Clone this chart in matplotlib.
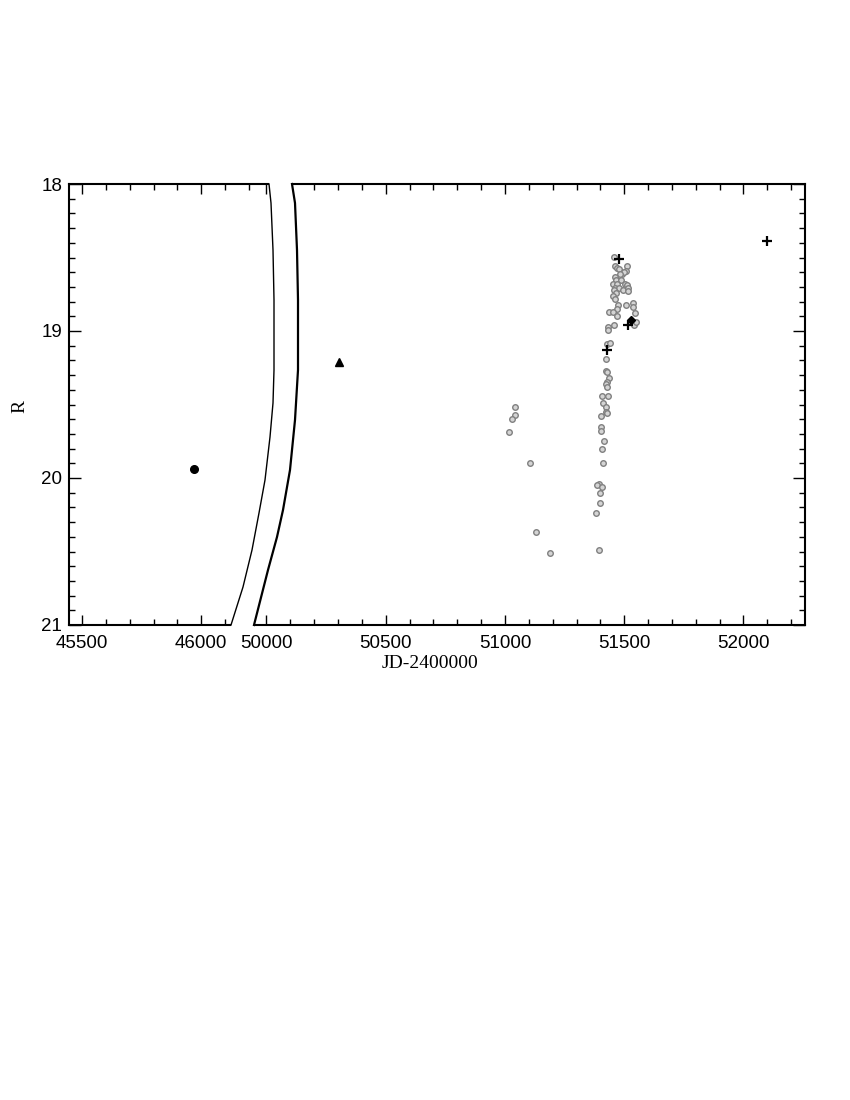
import numpy as np
import matplotlib
matplotlib.use('Agg')
import matplotlib.pyplot as plt
from matplotlib.patches import Polygon

# --- data ---
jd_gray = [51457, 51460, 51468, 51477, 51510, 51507, 51491, 51499, 51482, 51460,
           51465, 51488, 51454, 51471, 51502, 51510, 51460, 51479, 51494, 51517,
           51517, 51457, 51465, 51454, 51460, 51474, 51507, 51536, 51468, 51538,
           51437, 51453, 51468, 51546, 51432, 51432, 51458, 51541, 51549, 51426,
           51440, 51422, 51424, 51426, 51436, 51429, 51424, 51429, 51407, 51432,
           51410, 51425, 51422, 51429, 51403, 51404, 51403, 51414, 51408, 51412,
           51393, 51386, 51407, 51398, 51398, 51380, 51395,
           51041, 51041, 51031, 51018, 51106, 51130, 51188]
mag_gray = [18.50, 18.56, 18.57, 18.58, 18.56, 18.59, 18.61, 18.60, 18.61, 18.63,
            18.65, 18.65, 18.68, 18.68, 18.68, 18.69, 18.71, 18.71, 18.72, 18.71,
            18.73, 18.72, 18.74, 18.76, 18.78, 18.82, 18.82, 18.81, 18.85, 18.84,
            18.87, 18.87, 18.90, 18.88, 18.97, 18.99, 18.96, 18.96, 18.94, 19.09,
            19.08, 19.19, 19.27, 19.28, 19.32, 19.35, 19.36, 19.38, 19.44, 19.44,
            19.49, 19.52, 19.55, 19.56, 19.58, 19.65, 19.68, 19.75, 19.80, 19.90,
            20.04, 20.05, 20.06, 20.10, 20.17, 20.24, 20.49,
            19.52, 19.57, 19.60, 19.69, 19.90, 20.37, 20.51]

jd_plus = [52098, 51479, 51516, 51426]
mag_plus = [18.39, 18.51, 18.96, 19.13]

jd_diamond = [51528]
mag_diamond = [18.925]

jd_triangle = [50305]
mag_triangle = [19.21]

jd_dot = [45971]
mag_dot = [19.94]

major_x = [45500, 46000, 50000, 50500, 51000, 51500, 52000]
minor_x = list(range(45500, 46300, 100)) + list(range(50000, 52300, 100))

# broken x axis: squeeze 46200..50000 into a tiny stretch
def fwd(x):
    return np.interp(x, [0, 46200, 50000, 1e6], [0, 46200, 46273.6, 1e6 - 3726.4])

def inv(u):
    return np.interp(u, [0, 46200, 46273.6, 1e6 - 3726.4], [0, 46200, 50000, 1e6])

plt.rcParams['font.family'] = ['Liberation Sans', 'DejaVu Sans']

fig = plt.figure(figsize=(8.5, 11), dpi=100)
ax = fig.add_axes([69 / 850, 1 - 625 / 1100, 736 / 850, 441 / 1100])
ax.set_xscale('function', functions=(fwd, inv))
ax.set_xlim(45445.5, 52258)
ax.set_ylim(21, 18)

ax.plot(jd_gray, mag_gray, 'o', ms=4, mfc='#d4d4d4', mec='#808080', mew=1.0, ls='none')
ax.plot(jd_plus, mag_plus, '+', ms=6.5, mec='black', mew=1.6, ls='none')
ax.plot(jd_diamond, mag_diamond, 'D', ms=4.5, color='black', ls='none')
ax.plot(jd_triangle, mag_triangle, '^', ms=5.5, color='black', ls='none')
ax.plot(jd_dot, mag_dot, 'o', ms=5.5, color='black', ls='none')

ax.set_xticks(major_x)
ax.set_xticklabels([str(v) for v in major_x])
ax.set_xticks([v for v in minor_x if v not in major_x], minor=True)
ax.set_yticks([18, 19, 20, 21])
ax.set_yticks(np.arange(18, 21.01, 0.1), minor=True)
ax.tick_params(which='both', direction='in', top=True, right=True, width=1.0,
               labelsize=13.5)
ax.tick_params(axis='x', which='major', length=7, pad=7)
ax.tick_params(axis='x', which='minor', length=4.5)
ax.tick_params(axis='y', which='major', length=8.5, pad=5)
ax.tick_params(axis='y', which='minor', length=4.5)
for s in ax.spines.values():
    s.set_linewidth(1.5)

# break shape, in pixels of the frame
def to_ax(pts):
    return [((px - 69) / 736, (625 - py) / 441) for px, py in pts]

left_curve = to_ax([(269, 184), (271, 203), (273, 250), (274, 300), (274, 370), (273, 403),
                    (270, 437), (265, 480), (259, 513), (252, 550), (243, 587), (231, 625)])
right_curve = to_ax([(292, 184), (295, 203), (297, 250), (298, 300), (298, 370), (295, 420),
                     (290, 470), (283, 510), (277, 537), (268, 570), (254, 625)])

gap = [(left_curve[0][0], 1.02)] + left_curve + [(left_curve[-1][0], -0.02),
       (right_curve[-1][0], -0.02)] + right_curve[::-1] + [(right_curve[0][0], 1.02)]
ax.add_patch(Polygon(gap, closed=True, transform=ax.transAxes, facecolor='white',
                     edgecolor='none', clip_on=False, zorder=5))
lx, ly = zip(*left_curve)
rx, ry = zip(*right_curve)
ax.plot(lx, ly, color='black', lw=1.0, transform=ax.transAxes, clip_on=False, zorder=6)
ax.plot(rx, ry, color='black', lw=1.6, transform=ax.transAxes, clip_on=False, zorder=6)

ax.text((430 - 69) / 736, (625 - 664) / 441, 'JD-2400000', transform=ax.transAxes,
        ha='center', va='center', fontsize=14, family=['Liberation Serif'])
ax.text((20 - 69) / 736, (625 - 406) / 441, 'R', transform=ax.transAxes, rotation=90,
        ha='center', va='center', fontsize=14, family=['Liberation Serif'])

fig.savefig('out.png', dpi=100)
